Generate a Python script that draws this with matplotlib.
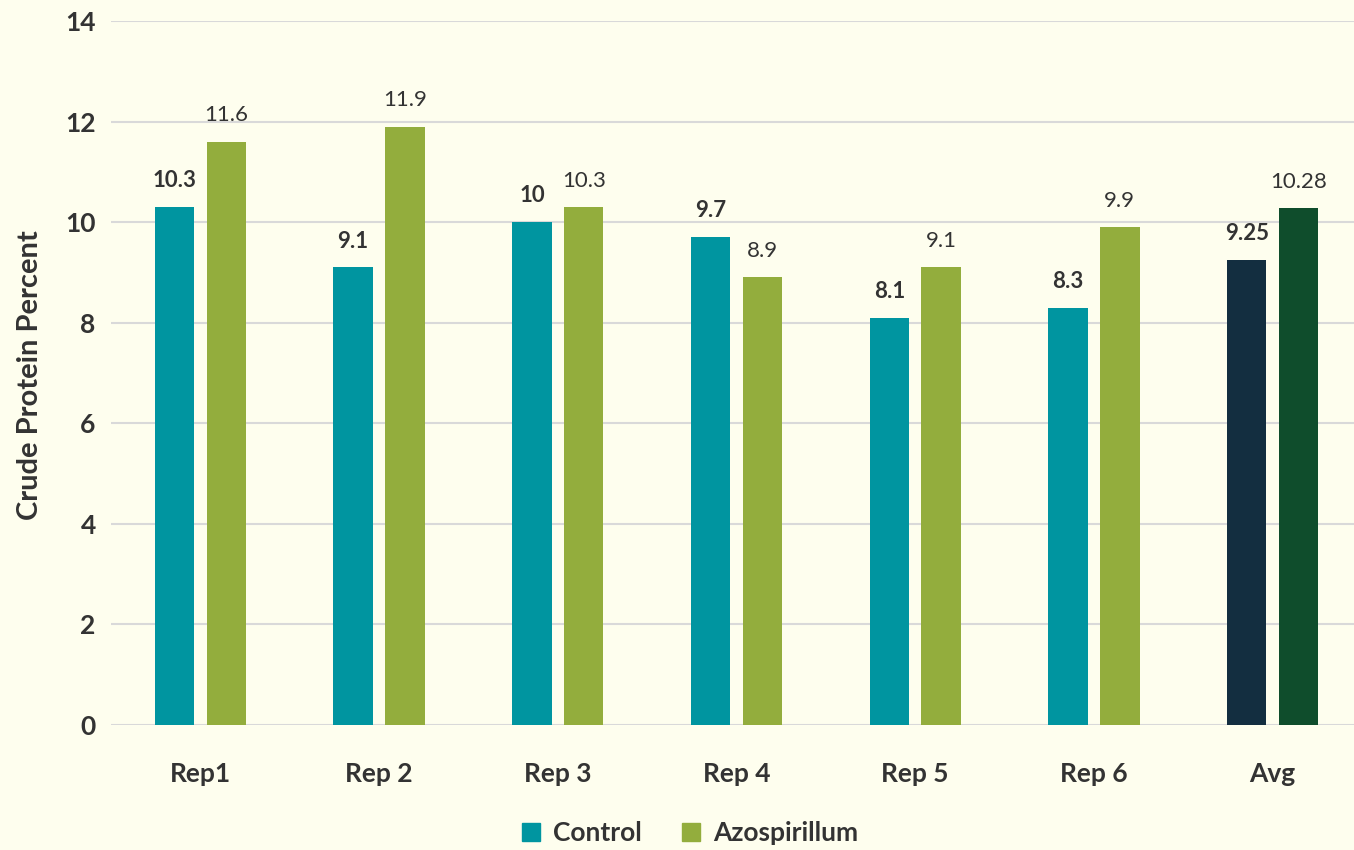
import numpy as np
import matplotlib.pyplot as plt
from matplotlib.patches import Patch

categories = ["Rep1", "Rep 2", "Rep 3", "Rep 4", "Rep 5", "Rep 6", "Avg"]
control = [10.3, 9.1, 10, 9.7, 8.1, 8.3, 9.25]
azospirillum = [11.6, 11.9, 10.3, 8.9, 9.1, 9.9, 10.28]
control_labels = ["10.3", "9.1", "10", "9.7", "8.1", "8.3", "9.25"]
azo_labels = ["11.6", "11.9", "10.3", "8.9", "9.1", "9.9", "10.28"]

bg = "#FEFEEE"
c_ctrl = "#0095A0"
c_azo = "#93AD3D"
c_ctrl_avg = "#132E40"
c_azo_avg = "#0F4D2C"
txt = "#333333"

plt.rcParams['font.family'] = ['Lato', 'DejaVu Sans']

fig = plt.figure(figsize=(13.54, 8.5), dpi=100, facecolor=bg)
ax = fig.add_axes([111 / 1354, 125 / 850, 1251 / 1354, 704 / 850])
ax.set_facecolor(bg)

x = np.arange(len(categories))
w = 0.22
off = 0.145
col_c = [c_ctrl] * (len(categories) - 1) + [c_ctrl_avg]
col_a = [c_azo] * (len(categories) - 1) + [c_azo_avg]
b1 = ax.bar(x - off, control, w, color=col_c, zorder=3)
b2 = ax.bar(x + off, azospirillum, w, color=col_a, zorder=3)

for rect, lab in zip(b1, control_labels):
    ax.annotate(lab, (rect.get_x() + rect.get_width() / 2, rect.get_height()),
                xytext=(0, 19), textcoords="offset points", ha="center", va="center",
                fontsize=16, fontweight="bold", color=txt)
for rect, lab in zip(b2, azo_labels):
    ax.annotate(lab, (rect.get_x() + rect.get_width() / 2, rect.get_height()),
                xytext=(0, 19), textcoords="offset points", ha="center", va="center",
                fontsize=16, color=txt)

ax.set_xlim(-0.5, len(categories) - 0.5)
ax.set_ylim(0, 14)
ax.set_yticks(np.arange(0, 15, 2))
ax.set_xticks(x)
ax.set_xticklabels(categories)
ax.grid(axis="y", color="#D9D9D9", linewidth=1.5, zorder=0)
for s in ax.spines.values():
    s.set_visible(False)
ax.tick_params(length=0, labelsize=19, labelcolor=txt)
ax.tick_params(axis="y", pad=11)
ax.tick_params(axis="x", pad=27)
for t in ax.get_xticklabels() + ax.get_yticklabels():
    t.set_fontweight("bold")

fig.text(30 / 1354, 1 - 375 / 850, "Crude Protein Percent", rotation=90, ha="center", va="center",
         fontsize=21, fontweight="bold", color=txt)

handles = [Patch(color=c_ctrl, label="Control"), Patch(color=c_azo, label="Azospirillum")]
leg = fig.legend(handles=handles, loc="center", bbox_to_anchor=(690 / 1354, 1 - 833 / 850), ncol=2,
                 frameon=False, prop={"size": 19, "weight": "bold"}, handlelength=0.7, handleheight=0.7,
                 handletextpad=0.5, columnspacing=1.5)
for t in leg.get_texts():
    t.set_color(txt)

fig.savefig("out.png", dpi=100, facecolor=bg)
